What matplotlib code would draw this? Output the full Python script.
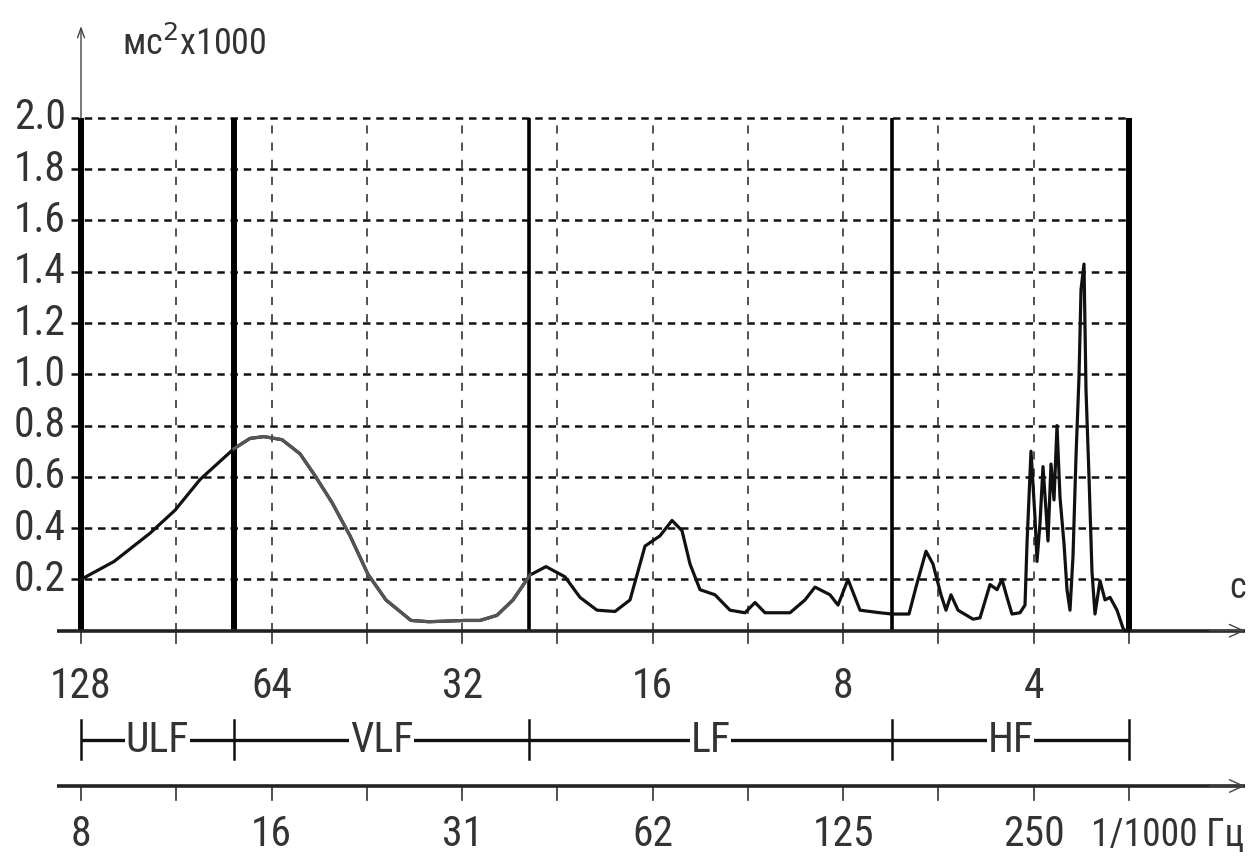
import matplotlib
matplotlib.use('Agg')
import matplotlib.pyplot as plt
from matplotlib import font_manager as fm
from matplotlib.transforms import blended_transform_factory
import numpy as np

# ---------------- data ----------------
freq_mhz = [7.8125, 8.81, 10.04, 11.00, 12.05, 13.63, 14.45, 15.20, 16.23, 17.33,
            18.24, 19.47, 20.79, 22.19, 23.69, 25.95, 27.71, 31.58, 33.36, 35.48,
            37.61, 40.01, 42.41, 45.44, 47.99, 51.05, 54.51, 57.57, 60.79, 64.20,
            67.07, 69.55, 71.61, 74.26, 78.42, 82.82, 87.47, 90.71, 94.07, 103.02,
            108.80, 112.83, 119.16, 122.68, 127.22, 132.90, 142.93, 149.31, 158.83, 162.92,
            168.96, 173.32, 178.44, 181.71, 185.05, 189.82, 200.47, 205.64, 213.26, 218.76,
            222.77, 226.86, 231.02, 237.84, 242.21, 243.98, 247.56, 251.19, 253.02, 255.80,
            258.60, 261.44, 263.35, 266.24, 269.16, 272.12, 275.10, 279.13, 282.20, 285.29,
            288.42, 291.59, 294.79, 296.95, 300.20, 302.39, 305.71, 309.06, 312.45, 318.19,
            324.04, 329.99, 338.49, 345.96, 348.48, 353.55]
power = [0.20, 0.27, 0.38, 0.47, 0.59, 0.71, 0.75, 0.757, 0.745, 0.69,
         0.61, 0.50, 0.37, 0.22, 0.12, 0.04, 0.035, 0.04, 0.04, 0.06,
         0.12, 0.217, 0.25, 0.21, 0.13, 0.08, 0.075, 0.12, 0.33, 0.37,
         0.43, 0.39, 0.26, 0.16, 0.14, 0.08, 0.07, 0.11, 0.07, 0.07,
         0.12, 0.17, 0.14, 0.10, 0.20, 0.08, 0.07, 0.065, 0.065, 0.17,
         0.31, 0.26, 0.14, 0.08, 0.14, 0.08, 0.045, 0.05, 0.18, 0.16,
         0.20, 0.13, 0.065, 0.07, 0.10, 0.34, 0.70, 0.44, 0.27, 0.42,
         0.64, 0.47, 0.35, 0.65, 0.51, 0.80, 0.52, 0.34, 0.16, 0.08,
         0.29, 0.68, 0.99, 1.33, 1.43, 0.94, 0.60, 0.23, 0.065, 0.195,
         0.12, 0.13, 0.08, 0.01, 0.0, 0.0]

band_names = ['ULF', 'VLF', 'LF', 'HF']
band_edges_mhz = [7.8125, 13.63, 39.86, 149.3, 353.55]
period_s = [128, 64, 32, 16, 8, 4]
period_labels = ['128', '64', '32', '16', '8', '4']
freq_labels = ['8', '16', '31', '62', '125', '250']
y_ticks = [0.2, 0.4, 0.6, 0.8, 1.0, 1.2, 1.4, 1.6, 1.8, 2.0]
y_labels = ['0.2', '0.4', '0.6', '0.8', '1.0', '1.2', '1.4', '1.6', '1.8', '2.0']
y_unit = 'мс$^2$x1000'
x_unit_top = 'с'
x_unit_bottom = '1/1000 Гц'

# ---------------- fonts ----------------
narrow = None
pref = ['Liberation Sans Narrow', 'Roboto Condensed', 'Open Sans Condensed',
        'DejaVu Sans Condensed', 'Noto Sans Condensed']
entries = [e for e in fm.fontManager.ttflist if e.style == 'normal' and e.weight in (400, 'normal', 'regular')]
for name in pref:
    for e in entries:
        if e.name == name:
            narrow = e.fname
            break
    if narrow:
        break
if narrow is None:
    for e in entries:
        if str(e.stretch) in ('condensed', 'semi-condensed', 'extra-condensed') or \
                'Condensed' in e.fname or 'Narrow' in e.fname:
            narrow = e.fname
            break

if narrow is not None:
    FS = 30
    def fp(size):
        return fm.FontProperties(fname=narrow, size=size)
else:
    FS = 26
    def fp(size):
        return fm.FontProperties(family=['Liberation Sans', 'DejaVu Sans'], size=size)

plt.rcParams['font.family'] = ['Liberation Sans', 'DejaVu Sans']
TXT = '#333333'

fig = plt.figure(figsize=(12.48, 8.61), dpi=100)
W, H = 1248, 861
px_left, px_right = 57, 1245
px_y0, px_top = 630.7, 28
px_per_unit = 256.4
ax = fig.add_axes([px_left / W, (H - px_y0) / H,
                   (px_right - px_left) / W, (px_y0 - px_top) / H])
ax.set_xscale('log', base=2)
f0 = band_edges_mhz[0]
fpp = np.log(2) / 190.54  # log per pixel
ax.set_xlim(f0 * np.exp(fpp * (px_left - 81)), f0 * np.exp(fpp * (px_right - 81)))
ax.set_ylim(0, (px_y0 - px_top) / px_per_unit)
ax.axis('off')

def v(py):
    return (px_y0 - py) / px_per_unit

xmin, xmax = band_edges_mhz[0], band_edges_mhz[-1]
major = [1000.0 / p for p in period_s]
ticks = sorted(major + [m * np.sqrt(2) for m in major])

# horizontal dashed gridlines
for yt in y_ticks:
    ax.plot([xmin * 0.965, xmax], [yt, yt], color='#111111', lw=1.8,
            linestyle=(0, (3.0, 2.3)), zorder=1, clip_on=False)
# vertical dashed gridlines
for t in ticks[1:-1]:
    ax.plot([t, t], [0, 2.0], color='#444444', lw=1.3,
            linestyle=(0, (4.5, 5.0)), zorder=1, clip_on=False)

# band boundary lines
widths = [4.3, 4.3, 2.6, 2.6, 4.3]
for e, w in zip(band_edges_mhz, widths):
    ax.plot([e, e], [0, 2.0], color='black', lw=w, zorder=2,
            solid_capstyle='butt', clip_on=False)

# spectrum curve
f = np.array(freq_mhz)
p = np.array(power)
ax.plot(f, p, color='#111111', lw=2.3, zorder=4, solid_joinstyle='round', clip_on=False)
m = (f >= band_edges_mhz[1] - 0.01) & (f <= band_edges_mhz[2] + 0.3)
ax.plot(f[m], p[m], color='#555555', lw=2.3, zorder=5, solid_joinstyle='round')

trans_fx = blended_transform_factory(ax.transAxes, ax.transData)
def xf(px):
    return (px - px_left) / (px_right - px_left)

# y axis (thin, with arrow)
ax.annotate('', xy=(xmin, v(26)), xytext=(xmin, 2.0),
            arrowprops=dict(arrowstyle='->,head_length=0.7,head_width=0.25',
                            lw=1.0, color='#444444', shrinkA=0, shrinkB=0),
            annotation_clip=False)

# x axes (main and frequency)
for yy in (0.0, v(786)):
    ax.plot([0, 1], [yy, yy], transform=trans_fx, color='#222222', lw=2.6,
            solid_capstyle='butt', clip_on=False, zorder=3)
    ax.annotate('', xy=(1.0, yy), xytext=(0.97, yy), xycoords=trans_fx,
                textcoords=trans_fx,
                arrowprops=dict(arrowstyle='->,head_length=1.0,head_width=0.45',
                                lw=1.0, color='#444444', shrinkA=0, shrinkB=0),
                annotation_clip=False)

for t in ticks:
    ax.plot([t, t], [0, v(643)], color='#333333', lw=1.2, clip_on=False)
    ax.plot([t, t], [v(786), v(800)], color='#333333', lw=1.2, clip_on=False)

# y tick labels
for yt, lab in zip(y_ticks, y_labels):
    ax.text(xf(66), yt, lab, transform=trans_fx, ha='right', va='center',
            fontproperties=fp(FS), color=TXT)

# y unit label
ax.text(xf(122), v(45), y_unit, transform=trans_fx, ha='left', va='center',
        fontproperties=fp(FS - 4), color=TXT)

# period labels
for mj, lab in zip(major, period_labels):
    ax.text(mj, v(686), lab, ha='center', va='center', fontproperties=fp(FS), color=TXT)
ax.text(xf(1238), v(588), x_unit_top, transform=trans_fx, ha='center',
        va='center', fontproperties=fp(FS - 4), color=TXT)

# frequency labels
for mj, lab in zip(major, freq_labels):
    ax.text(mj, v(835), lab, ha='center', va='center', fontproperties=fp(FS), color=TXT)
ax.text(xf(1244), v(835), x_unit_bottom, transform=trans_fx, ha='right',
        va='center', fontproperties=fp(FS - 3), color=TXT)

# band bar
yb = v(740)
ax.plot([xmin, xmax], [yb, yb], color='#111111', lw=2.4, clip_on=False,
        solid_capstyle='butt')
for e in band_edges_mhz:
    ax.plot([e, e], [v(720), v(759)], color='#111111', lw=1.8, clip_on=False)
for i, name in enumerate(band_names):
    c = np.sqrt(band_edges_mhz[i] * band_edges_mhz[i + 1])
    ax.text(c, yb, name, ha='center', va='center', fontproperties=fp(FS), color=TXT,
            bbox=dict(boxstyle='square,pad=0.02', fc='white', ec='none'))

fig.savefig('out.png', dpi=100, facecolor='white')
